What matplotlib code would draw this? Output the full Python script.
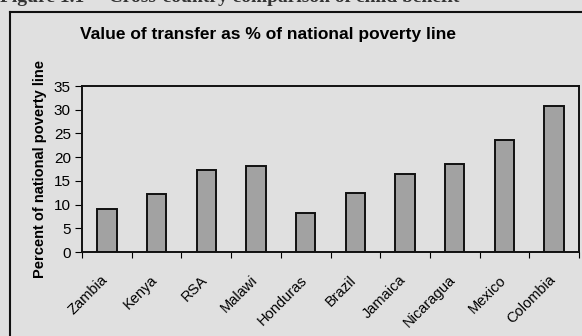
import matplotlib.pyplot as plt
import matplotlib.transforms as mtransforms
import numpy as np
from matplotlib.lines import Line2D

countries = ["Zambia", "Kenya", "RSA", "Malawi", "Honduras", "Brazil",
             "Jamaica", "Nicaragua", "Mexico", "Colombia"]
values = [9.1, 12.2, 17.2, 18.2, 8.3, 12.5, 16.4, 18.5, 23.6, 30.7]
yticks = [0, 5, 10, 15, 20, 25, 30, 35]

W, H = 582, 336
bg = "#e0e0e0"
plt.rcParams["font.family"] = ["Liberation Sans", "DejaVu Sans"]

fig = plt.figure(figsize=(W / 100, H / 100), dpi=100, facecolor=bg)
ax = fig.add_axes([82 / W, 1 - 252 / H, (579 - 82) / W, (252 - 86) / H])
ax.set_facecolor(bg)

x = np.arange(len(countries))
ax.bar(x, values, width=0.39, color="#a2a2a2", edgecolor="#111111", linewidth=1.4)

ax.set_xlim(-0.5, len(countries) - 0.5)
ax.set_ylim(0, 35)
ax.set_yticks(yticks)
ax.tick_params(axis="y", labelsize=11, length=5, width=0.8, pad=3)
ax.set_xticks(x)
ax.set_xticklabels(countries, rotation=45, ha="right", rotation_mode="anchor", fontsize=10.5)
ax.tick_params(axis="x", length=0, pad=15)
# nudge labels a little left, like in the scan
shift = mtransforms.ScaledTranslation(-6 / 100, 0, fig.dpi_scale_trans)
for lbl in ax.get_xticklabels():
    lbl.set_transform(lbl.get_transform() + shift)
# category boundary ticks
ax.set_xticks(np.arange(-0.5, len(countries)), minor=True)
ax.tick_params(axis="x", which="minor", length=4, width=0.8)
for s in ax.spines.values():
    s.set_linewidth(1.4)
    s.set_color("#111111")

ax.set_ylabel("Percent of national poverty line", fontsize=10.5, fontweight="bold", labelpad=5)

fig.text(268 / W, 1 - 34 / H, "Value of transfer as % of national poverty line",
         ha="center", va="center", fontsize=12.5, fontweight="bold")

# partly cut caption of the scanned page
fig.text(0, 1 + 3 / H, "Figure 1.1     Cross-country comparison of child benefit",
         ha="left", va="center", fontsize=14, fontweight="bold",
         family=["Liberation Serif", "DejaVu Serif"], color="#333333")

# outer frame of the scanned figure
fig.add_artist(Line2D([10 / W, 10 / W], [0, 1 - 12 / H], transform=fig.transFigure,
                      color="#111111", linewidth=1.5))
fig.add_artist(Line2D([10 / W, 1], [1 - 12 / H, 1 - 12 / H], transform=fig.transFigure,
                      color="#111111", linewidth=1.5))

fig.savefig("out.png", dpi=100, facecolor=bg)
